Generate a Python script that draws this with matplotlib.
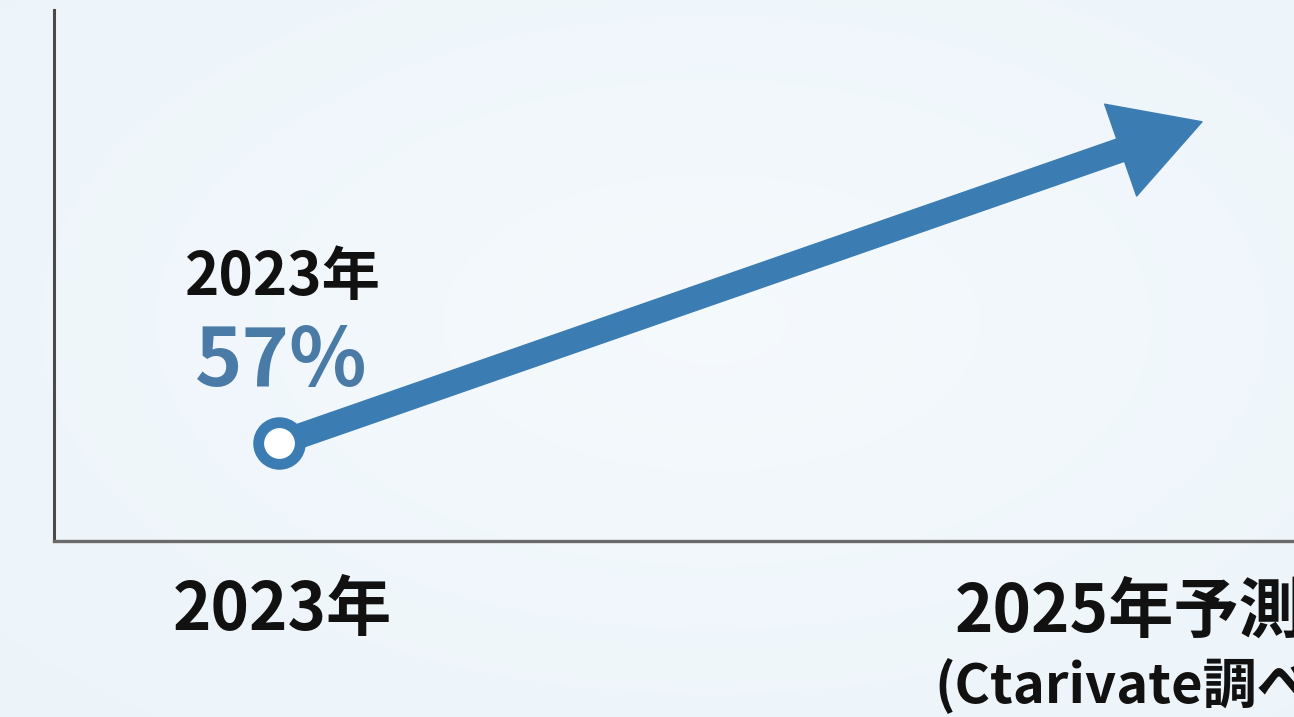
import matplotlib
matplotlib.use('Agg')
import matplotlib.pyplot as plt
import numpy as np
from matplotlib.patches import FancyArrowPatch

# ---- data ----
categories = ["2023年", "2025年予測"]
values = [57, 80]
source_note = "(Ctarivate調べ)"
start_label = "2023年"
start_value_label = "57%"

plt.rcParams['font.family'] = ['Noto Sans CJK JP', 'DejaVu Sans']

W, H, DPI = 1294, 717, 100
fig = plt.figure(figsize=(W / DPI, H / DPI), dpi=DPI)

# soft background gradient
bg = fig.add_axes([0, 0, 1, 1], zorder=-10)
yy, xx = np.mgrid[0:1:200j, 0:1:360j]
r = np.sqrt(((xx - 0.55) / 0.8) ** 2 + ((yy - 0.45) / 0.8) ** 2)
c_center = np.array([0.960, 0.978, 0.990])
c_edge = np.array([0.925, 0.957, 0.980])
t = np.clip(r, 0, 1)[..., None]
img = c_center * (1 - t) + c_edge * t
bg.imshow(img, aspect='auto', extent=[0, 1, 0, 1], interpolation='bilinear')
bg.axis('off')

ax = fig.add_axes([54 / W, (H - 541) / H, 1 - 54 / W, (541 - 10) / H])
ax.patch.set_alpha(0)
x = np.arange(len(categories))
ax.set_xlim(-0.2438, 1.0997)
ax.set_ylim(50, 88)
for s in ['top', 'right']:
    ax.spines[s].set_visible(False)
ax.spines['left'].set_color('#4a4a4a')
ax.spines['left'].set_linewidth(2.2)
ax.spines['bottom'].set_color('#6a6a6a')
ax.spines['bottom'].set_linewidth(2.4)
ax.set_xticks([])
ax.set_yticks([])

line_color = '#3b7db3'
arrow = FancyArrowPatch((x[0], values[0]), (x[1], values[1]),
                        arrowstyle='simple,head_length=62,head_width=70,tail_width=17',
                        mutation_scale=1, color=line_color, shrinkA=0, shrinkB=0,
                        zorder=3)
ax.add_patch(arrow)
ax.plot(x[0], values[0], 'o', ms=30, mew=7.8, mec=line_color, mfc='white',
        zorder=5, clip_on=False)

ax.annotate(start_label, xy=(x[0], values[0]), xytext=(4, 148),
            textcoords='offset pixels', ha='center', va='baseline',
            fontsize=42, fontweight='bold', color='#111111')
ax.annotate(start_value_label, xy=(x[0], values[0]), xytext=(2, 57),
            textcoords='offset pixels', ha='center', va='baseline',
            fontsize=58, fontweight='bold', color='#4a7ba6')

# category labels under axis
ax.annotate(categories[0], xy=(x[0], 50), xytext=(3, -89),
            textcoords='offset pixels', ha='center', va='baseline',
            fontsize=47, fontweight='bold', color='#111111', annotation_clip=False)
ax.annotate(categories[1], xy=(x[1], 50), xytext=(-247, -91),
            textcoords='offset pixels', ha='left', va='baseline',
            fontsize=47, fontweight='bold', color='#111111', annotation_clip=False)
ax.annotate(source_note, xy=(x[1], 50), xytext=(-268, -162),
            textcoords='offset pixels', ha='left', va='baseline',
            fontsize=39, fontweight='bold', color='#111111', annotation_clip=False)

fig.savefig('out.png', dpi=DPI)
